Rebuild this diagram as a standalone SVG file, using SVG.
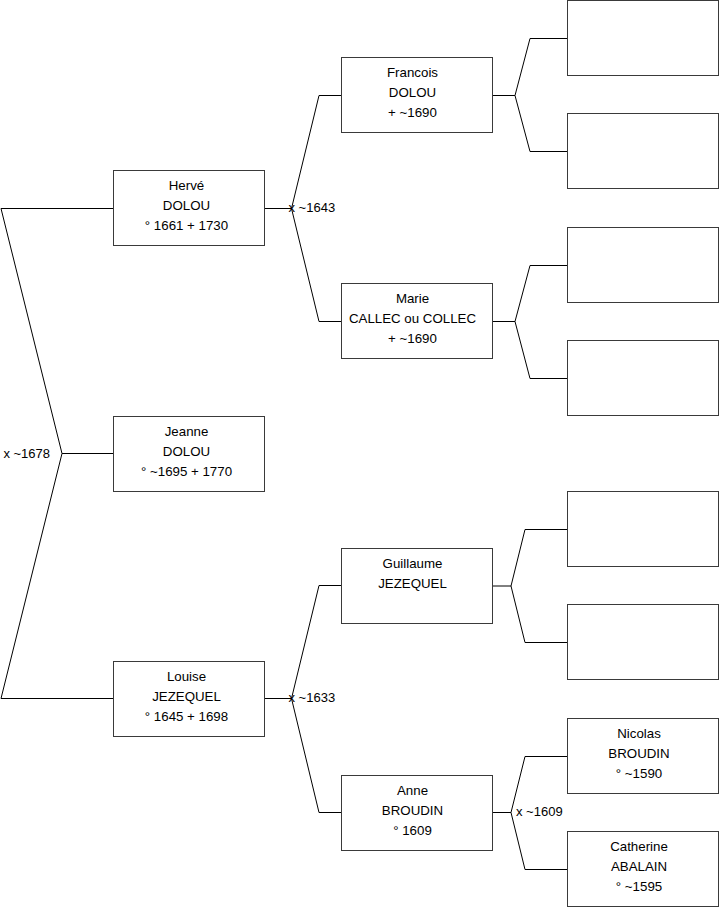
<svg xmlns="http://www.w3.org/2000/svg" width="719" height="908" viewBox="0 0 719 908">
<style>
.box{fill:#fff;stroke:#3a3a3a;stroke-width:1}
.t{font-family:"Liberation Sans",Arial,sans-serif;font-size:13.3px;fill:#000;text-anchor:middle}
.lbl{font-family:"Liberation Sans",Arial,sans-serif;font-size:13px;fill:#000}
.c{fill:none;stroke:#000;stroke-width:1}
</style>
<rect width="719" height="908" fill="#fff"/>
<g id="connectors">
<path class="c" d="M113.5 208.5 H1 L62 453.5 L1 698.5 H113.5 M62 453.5 H113.5"/>
<path class="c" d="M264.5 208.5 H291.5 M341.5 95.5 H319 L291.5 208.5 L319 321.5 H341.5"/>
<path class="c" d="M264.5 698.5 H291.5 M341.5 585.5 H319 L291.5 698.5 L319 812.5 H341.5"/>
<path class="c" d="M492.5 95.5 H515 M567.5 38.5 H530 L515 95.5 L530 151.5 H567.5"/>
<path class="c" d="M492.5 321.5 H515 M567.5 265.5 H530 L515 321.5 L530 378.5 H567.5"/>
<path class="c" d="M492.5 586 H511 M567.5 529.5 H525 L511 586 L525 642.5 H567.5"/>
<path class="c" d="M492.5 812.5 H511 M567.5 756.5 H525 L511 812.5 L525 869.5 H567.5"/>
<text class="lbl" x="50" y="457.5" text-anchor="end">x ~1678</text>
<text class="lbl" x="288.5" y="212">x ~1643</text>
<text class="lbl" x="288.5" y="702">x ~1633</text>
<text class="lbl" x="516" y="816">x ~1609</text>
</g>
<g id="herve"><rect class="box" x="113.5" y="170.5" width="151" height="75"/>
<text class="t" x="186.5" y="190">Hervé</text><text class="t" x="186.5" y="210">DOLOU</text><text class="t" x="186.5" y="230">° 1661 + 1730</text></g>
<g id="jeanne"><rect class="box" x="113.5" y="416.5" width="151" height="75"/>
<text class="t" x="186.5" y="436">Jeanne</text><text class="t" x="186.5" y="456">DOLOU</text><text class="t" x="186.5" y="476">° ~1695 + 1770</text></g>
<g id="louise"><rect class="box" x="113.5" y="661.5" width="151" height="75"/>
<text class="t" x="186.5" y="681">Louise</text><text class="t" x="186.5" y="701">JEZEQUEL</text><text class="t" x="186.5" y="721">° 1645 + 1698</text></g>
<g id="francois"><rect class="box" x="341.5" y="57.5" width="151" height="75"/>
<text class="t" x="412.5" y="77">Francois</text><text class="t" x="412.5" y="97">DOLOU</text><text class="t" x="412.5" y="117">+ ~1690</text></g>
<g id="marie"><rect class="box" x="341.5" y="283.5" width="151" height="75"/>
<text class="t" x="412.5" y="303">Marie</text><text class="t" x="412.5" y="323">CALLEC ou COLLEC</text><text class="t" x="412.5" y="343">+ ~1690</text></g>
<g id="guillaume"><rect class="box" x="341.5" y="548.5" width="151" height="75"/>
<text class="t" x="412.5" y="568">Guillaume</text><text class="t" x="412.5" y="588">JEZEQUEL</text></g>
<g id="anne"><rect class="box" x="341.5" y="775.5" width="151" height="75"/>
<text class="t" x="412.5" y="795">Anne</text><text class="t" x="412.5" y="815">BROUDIN</text><text class="t" x="412.5" y="835">° 1609</text></g>
<g id="p1"><rect class="box" x="567.5" y="0.5" width="151" height="75"/></g>
<g id="p2"><rect class="box" x="567.5" y="113.5" width="151" height="75"/></g>
<g id="p3"><rect class="box" x="567.5" y="227.5" width="151" height="75"/></g>
<g id="p4"><rect class="box" x="567.5" y="340.5" width="151" height="75"/></g>
<g id="p5"><rect class="box" x="567.5" y="491.5" width="151" height="75"/></g>
<g id="p6"><rect class="box" x="567.5" y="604.5" width="151" height="75"/></g>
<g id="nicolas"><rect class="box" x="567.5" y="718.5" width="151" height="75"/>
<text class="t" x="639" y="738">Nicolas</text><text class="t" x="639" y="758">BROUDIN</text><text class="t" x="639" y="778">° ~1590</text></g>
<g id="catherine"><rect class="box" x="567.5" y="831.5" width="151" height="75"/>
<text class="t" x="639" y="851">Catherine</text><text class="t" x="639" y="871">ABALAIN</text><text class="t" x="639" y="891">° ~1595</text></g>
</svg>
